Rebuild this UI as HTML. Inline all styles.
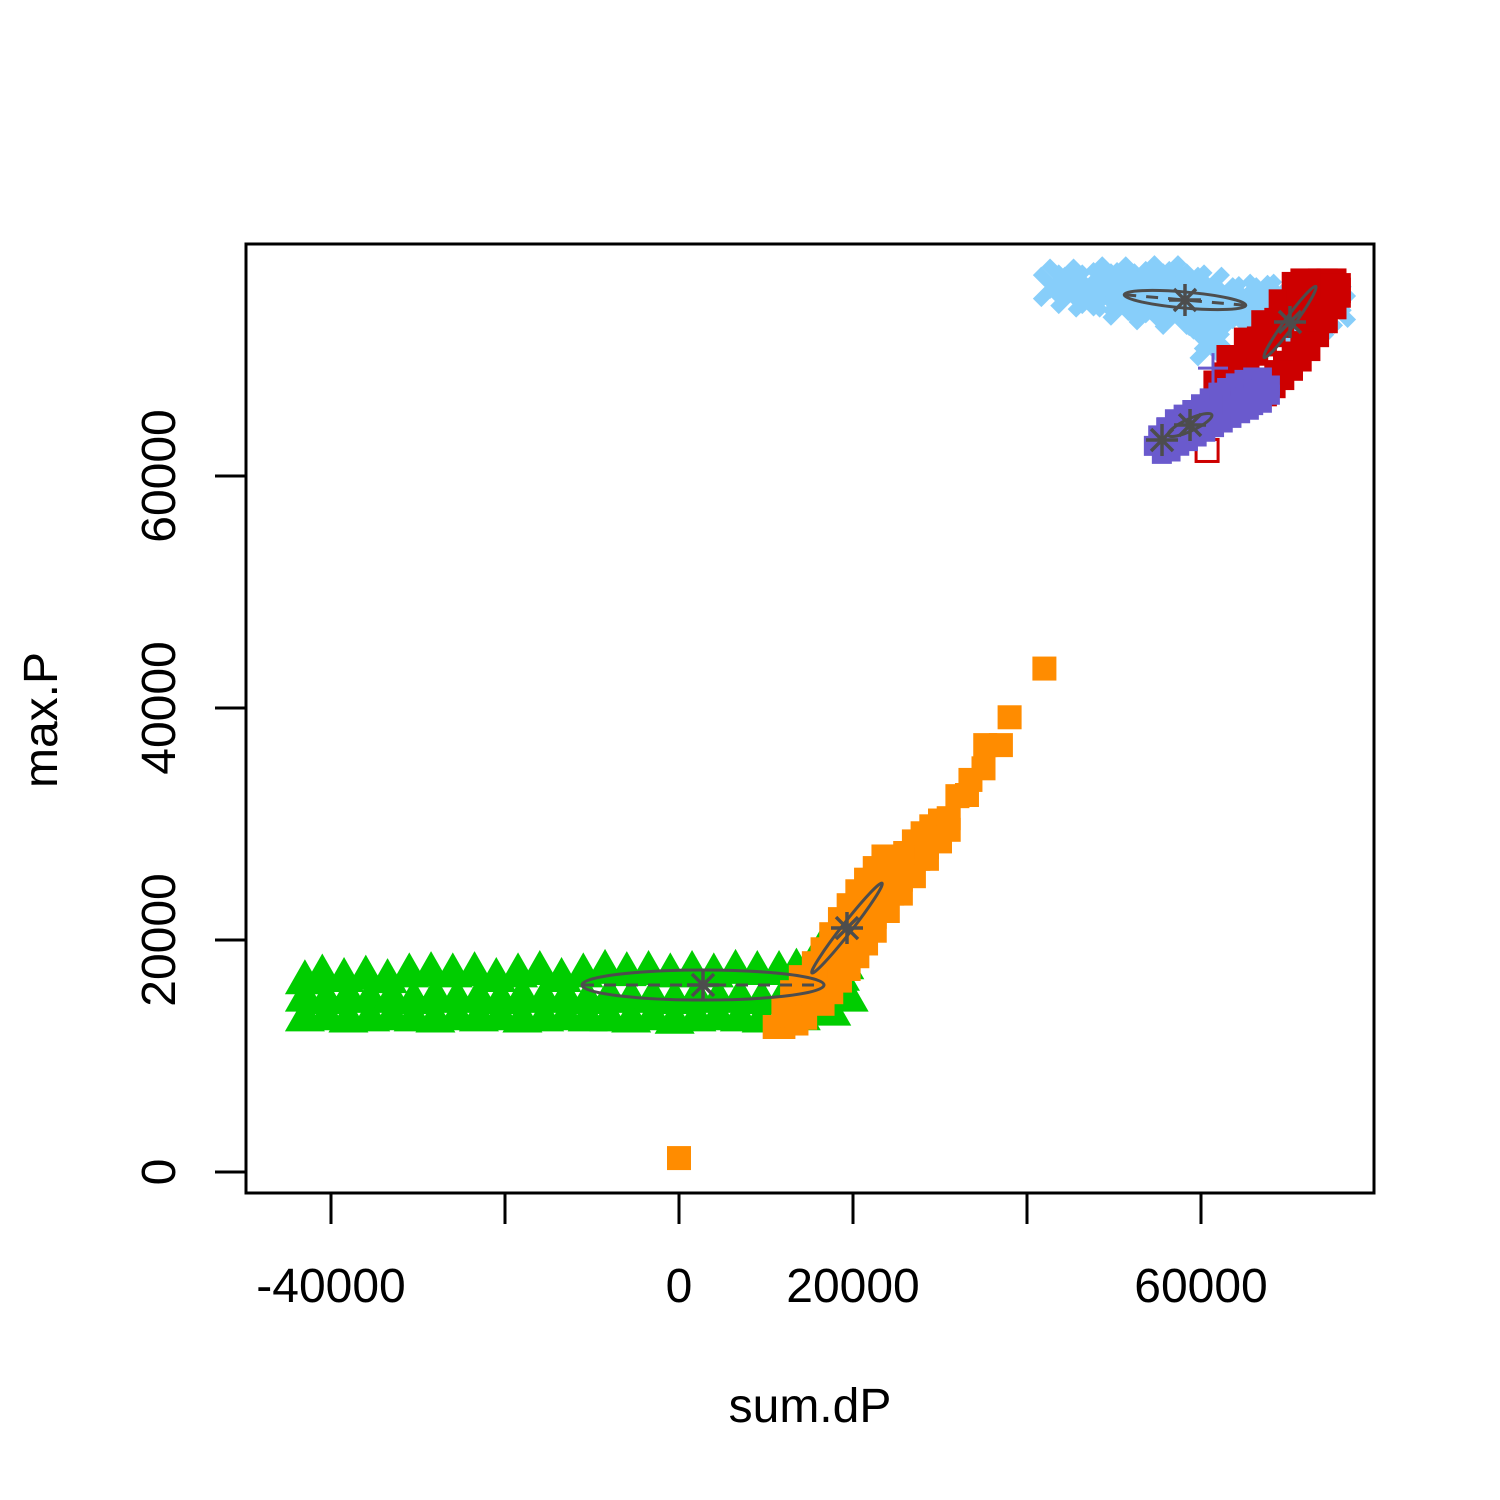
<!DOCTYPE html>
<html><head><meta charset="utf-8">
<style>html,body{margin:0;padding:0;background:#fff}svg{display:block}text{font-family:"Liberation Sans",Arial,sans-serif}</style>
</head><body>
<svg id="chart" width="1500" height="1500" viewBox="0 0 1500 1500" xmlns="http://www.w3.org/2000/svg">
<rect x="0" y="0" width="1500" height="1500" fill="#fff"/>
<g id="marks"></g>
<rect x="246" y="244" width="1128" height="949" fill="none" stroke="#000" stroke-width="3"/>
<g id="axes"></g>
<text x="810" y="1422" font-size="48" text-anchor="middle">sum.dP</text>
<text x="0" y="0" font-size="48" text-anchor="middle" transform="translate(57,720) rotate(-90)">max.P</text>
</svg>
<script>
const xTicks=[-40000,-20000,0,20000,40000,60000];
const xTickLabels=["-40000","","0","20000","","60000"];
const yTicks=[0,20000,40000,60000];
const yTickLabels=["0","20000","40000","60000"];
const greenPts=[[-43000,13500],[-40500,13600],[-38000,13400],[-35500,13500],[-33000,13600],[-30500,13500],[-28000,13400],[-25500,13600],[-23000,13500],[-20500,13600],[-18000,13400],[-15500,13500],[-13000,13600],[-10500,13500],[-8000,13500],[-5500,13400],[-3000,13600],[-500,13300],[2000,13500],[4500,13600],[7000,13500],[9500,13400],[12000,13500],[14000,13600],
[-43000,15200],[-40500,15000],[-38000,15300],[-35500,15100],[-33000,15200],[-30500,15000],[-28000,15300],[-25500,15100],[-23000,15200],[-20500,15000],[-18000,15300],[-15500,15100],[-13000,15200],[-10500,15000],[-8000,15300],[-5500,15100],[-3000,15200],[-500,15000],[2000,15300],[4500,15100],[7000,15200],[9500,15000],[12000,15300],[14500,15100],[17000,16000],[18500,17000],[19500,15200],[17500,14000],
[-43000,16700],[-41000,17200],[-38500,16900],[-36000,17100],[-33500,16800],[-31000,17300],[-28500,17400],[-26000,17300],[-23500,17400],[-21000,16900],[-18500,17300],[-16000,17500],[-13500,16900],[-11000,17300],[-8500,17600],[-6000,17400],[-3500,17500],[-1000,17300],[1500,17500],[4000,17300],[6500,17600],[9000,17500],[11500,17500],[13500,17700],[15500,18400],[17500,19200],[19000,18000],[16500,19600]];
const orangePts=[[11000,12500],[12000,12500],[13000,12800],[12500,13500],[13500,14500],[14500,15500],[15000,16500],[16000,17500],[17000,18500],[18000,19500],[19000,20500],[20000,21500],[21000,22500],[22000,23500],[23000,24500],[24000,25500],[25000,26500],[26000,27500],[27000,28500],[28000,29200],[29000,29800],[30000,30300],[31000,30500],[15500,14700],[16500,15800],[17500,16800],[18500,17800],[19500,18800],[20500,19800],[21500,21000],[22500,22000],[23500,23000],[24500,24000],[25500,25200],[26500,26200],[27500,27000],[28500,28000],[29500,28800],[13500,12800],[14500,13300],[12000,14000],[13000,15500],[14000,16800],[15500,18000],[16500,19200],[17500,20500],[18500,21800],[19500,23000],[20500,24200],[21500,25200],[22500,26200],[23500,27200],[16500,14500],[17500,15500],[18500,16500],[19500,17500],[20500,18600],[21500,19700],[22500,20800],[24000,22500],[25500,24000],[27000,25500],[28500,27000],[30000,28500],[31000,29500],[32000,32400],[33100,32500],[33500,33800],[35000,34800],[35200,36800],[37000,36800],[38000,39200],[42000,43400],[0,1200]];
const blueDot=[[55500,62300]];
const purplePts=[[55500,62600],[56000,63500],[57000,64200],[58000,64600],[59000,65000],[60000,65500],[61000,66000],[62000,66500],[63000,66900],[64000,67300],[65000,67600],[66000,67800],[67000,67800],[56500,62800],[57500,63300],[58500,63700],[59500,64100],[60500,64500],[61500,64900],[62500,65300],[63500,65700],[64500,66100],[65500,66400],[66000,66800],[67000,67000],[61380,69300]];
const redPts=[[62000,67800],[63000,68500],[64000,69300],[65000,70000],[66000,70800],[67000,71600],[68000,72400],[69000,73200],[70000,74000],[71000,74800],[72000,75600],[73000,76300],[74000,76600],[75000,76600],[75500,75800],[75000,74800],[74000,73600],[73000,72400],[72000,71200],[71000,70300],[70000,69500],[69000,68700],[68000,68000],[67000,67300],[75500,76200],[71000,76300],[72000,76600],[63500,70000],[65500,71500],[67500,73000],[69500,74800],[71500,76000]];
const redHollow=[[60700,62200]];
const lblPts=[[43000,76300],[45000,76500],[47000,76300],[49000,76700],[51000,76600],[53000,76700],[55000,76800],[57000,76600],[59000,76500],[61000,76300],[45000,75700],[47000,75400],[49000,75500],[51000,75300],[53000,75100],[55000,74900],[57000,74700],[59000,74500],[61000,74300],[63000,74500],[65000,74400],[67000,74600],[69000,74800],[71000,75000],[73000,75200],[75000,75300],[63000,75500],[65000,75400],[67000,75700],[69000,75600],[60500,73500],[61500,72000],[61000,71200],[73000,73200],[74000,74000],[71500,72800],[51000,74700],[54000,74300],[57000,73900],[60000,73800],[44000,77000],[50000,77200],[56000,77300],[64000,73800],[67000,73800],[75500,74500]];
const centers=[[2760,16120],[19310,21030],[58160,75170],[70230,73280],[58740,64400],[55520,63100]];
const X=v=>679+v*0.0087, Y=v=>1172-v*0.0116;
const NS="http://www.w3.org/2000/svg";
const marks=document.getElementById('marks'), axes=document.getElementById('axes');
function mk(tag,at,parent){const e=document.createElementNS(NS,tag);for(const k in at)e.setAttribute(k,at[k]);(parent||marks).appendChild(e);return e;}
greenPts.forEach(p=>{const x=X(p[0]),y=Y(p[1]);const e=mk('polygon',{points:`${x-20},${y+16} ${x+20},${y+16} ${x},${y-19}`,fill:'#00cd00'});

});
orangePts.forEach(p=>{const x=X(p[0]),y=Y(p[1]);const e=mk('rect',{x:x-12,y:y-12,width:24,height:24,fill:'#ff8c00'});

});
lblPts.forEach(p=>{const x=X(p[0]),y=Y(p[1]);const e=mk('path',{d:`M${x-16},${y-16}L${x+16},${y+16}M${x-16},${y+16}L${x+16},${y-16}`,stroke:'#87cefa','stroke-width':12,fill:'none'});

});
redPts.forEach(p=>{const x=X(p[0]),y=Y(p[1]);const e=mk('rect',{x:x-15,y:y-15,width:30,height:30,fill:'#cd0000'});

});
redHollow.forEach(p=>{const x=X(p[0]),y=Y(p[1]);const e=mk('rect',{x:x-11,y:y-11,width:22,height:22,fill:'none',stroke:'#cd0000','stroke-width':3});

});
blueDot.forEach(p=>{const e=mk('circle',{cx:X(p[0]),cy:Y(p[1]),r:10,fill:'#1e90ff'});

});
purplePts.forEach((p,i)=>{const x=X(p[0]),y=Y(p[1]);const last=i==purplePts.length-1;const s=last?15:18;const e=mk('path',{d:`M${x-s},${y}L${x+s},${y}M${x},${y-s}L${x},${y+s}`,stroke:'#6a5acd','stroke-width':last?3:20,fill:'none'});

});
const ell=[[0,121,15,0,true],[1,57,5,-52,false],[2,61,8,5,true],[3,44,5,-54,false],[4,24,6,-25,false]];
ell.forEach(a=>{const c=centers[a[0]];const cx=X(c[0]),cy=Y(c[1]);const g=mk('g',{transform:`translate(${cx},${cy}) rotate(${a[3]})`});


mk('ellipse',{cx:0,cy:0,rx:a[1],ry:a[2],fill:'none',stroke:'#4d4d4d','stroke-width':3},g);
if(a[4])mk('line',{x1:-a[1],y1:0,x2:a[1],y2:0,stroke:'#4d4d4d','stroke-width':3,'stroke-dasharray':'12 10'},g);
});
centers.forEach(c=>{const x=X(c[0]),y=Y(c[1]);const s=16,d=11;const e=mk('path',{d:`M${x-s},${y}L${x+s},${y}M${x},${y-s}L${x},${y+s}M${x-d},${y-d}L${x+d},${y+d}M${x-d},${y+d}L${x+d},${y-d}`,stroke:'#4d4d4d','stroke-width':3.5,fill:'none'});

});
xTicks.forEach((t,i)=>{const x=X(t);const l=mk('line',{x1:x,y1:1193,x2:x,y2:1224,stroke:'#000','stroke-width':3},axes);


if(xTickLabels[i]){const tx=mk('text',{x:x,y:1302,'font-size':48,'text-anchor':'middle'},axes);tx.textContent=xTickLabels[i];

}});
yTicks.forEach((t,i)=>{const y=Y(t);const l=mk('line',{x1:215,y1:y,x2:246,y2:y,stroke:'#000','stroke-width':3},axes);


const tx=mk('text',{x:0,y:0,'font-size':48,'text-anchor':'middle',transform:`translate(175,${y}) rotate(-90)`},axes);tx.textContent=yTickLabels[i];

});
</script>
</body></html>
